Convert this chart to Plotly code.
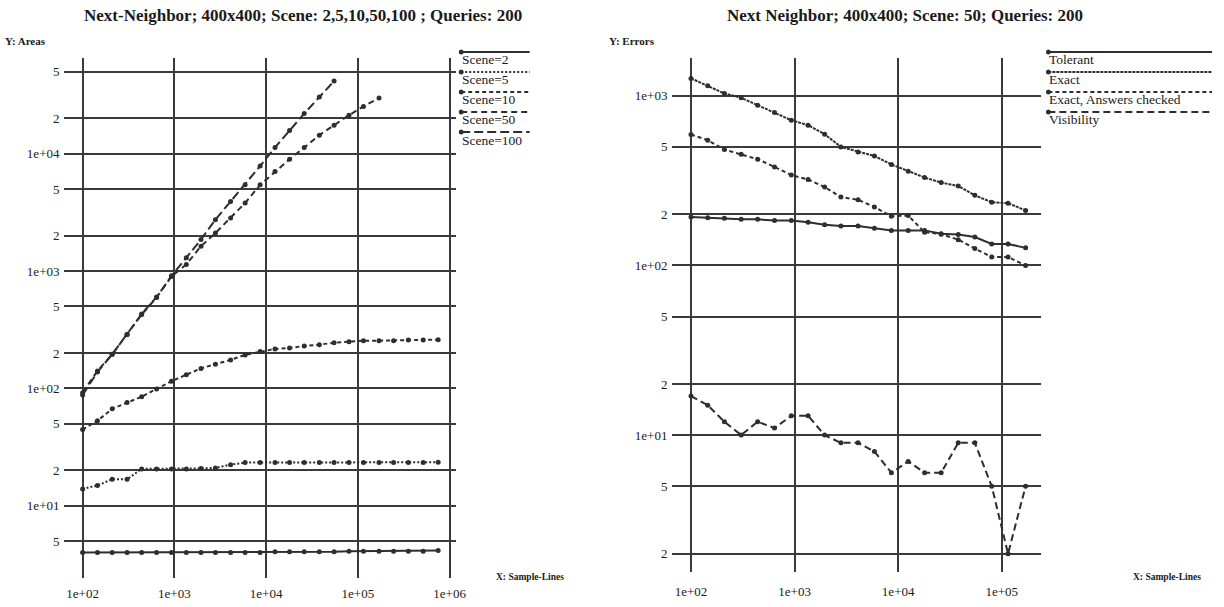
import plotly.graph_objects as go

# ---------------- data ----------------
sample_lines = [100, 145, 210, 305, 440, 640, 930, 1350, 1950, 2800, 4100, 5900, 8600,
                12500, 18000, 26000, 38000, 55000, 80000, 115000, 170000, 245000,
                355000, 515000, 750000]

scene2 = [4.0, 4.0, 4.0, 4.0, 4.0, 4.0, 4.0, 4.0, 4.0, 4.0, 4.0, 4.0, 4.0, 4.05, 4.05,
          4.05, 4.05, 4.05, 4.1, 4.1, 4.1, 4.1, 4.1, 4.1, 4.15]
scene5 = [13.9, 14.9, 16.8, 16.8, 20.6, 20.6, 20.6, 20.6, 20.8, 21, 22.4, 23.3, 23.3,
          23.3, 23.3, 23.3, 23.3, 23.3, 23.3, 23.3, 23.3, 23.3, 23.3, 23.3, 23.5]
scene10 = [44.6, 53, 67, 76, 85, 99, 115, 131, 148, 161, 175, 193, 206, 217, 221, 230,
           236, 245, 250, 255, 255, 255, 258, 259, 260]
scene50 = [92, 141, 195, 288, 427, 596, 900, 1140, 1630, 2110, 2830, 3800, 5430, 7040,
           8960, 11300, 14400, 17500, 21300, 25300, 29900]
scene100 = [88, 138, 195, 288, 430, 600, 910, 1300, 1860, 2740, 3920, 5430, 7870, 11300,
            15800, 22000, 30400, 41600]

sample_lines_r = [100, 145, 210, 305, 440, 640, 930, 1350, 1950, 2800, 4100, 5900, 8600,
                  12500, 18000, 26000, 38000, 55000, 80000, 115000, 170000]
tolerant = [193, 191, 190, 187, 187, 184, 184, 180, 174, 171, 171, 166, 161, 161, 161,
            154, 152, 147, 134, 134, 127]
exact = [1267, 1146, 1033, 973, 881, 798, 718, 671, 594, 500, 467, 442, 394, 359, 330,
         308, 294, 259, 236, 233, 211]
exact_checked = [592, 548, 482, 453, 423, 381, 341, 321, 290, 253, 244, 221, 195, 197,
                 157, 153, 142, 126, 112, 112, 100]
visibility = [17, 15, 12, 10, 12, 11, 13, 13, 10, 9, 9, 8, 6, 7, 6, 6, 9, 9, 5, 2, 5]

left_names = ["Scene=2", "Scene=5", "Scene=10", "Scene=50", "Scene=100"]
right_names = ["Tolerant", "Exact", "Exact, Answers checked", "Visibility"]

left_xticks = [1e2, 1e3, 1e4, 1e5, 1e6]
left_xlabels = ["1e+02", "1e+03", "1e+04", "1e+05", "1e+06"]
left_yticks = [5, 10, 20, 50, 100, 200, 500, 1000, 2000, 5000, 10000, 20000, 50000]
left_ylabels = ["5", "1e+01", "2", "5", "1e+02", "2", "5", "1e+03", "2", "5", "1e+04", "2", "5"]
right_xticks = [1e2, 1e3, 1e4, 1e5]
right_xlabels = ["1e+02", "1e+03", "1e+04", "1e+05"]
right_yticks = [2, 5, 10, 20, 50, 100, 200, 500, 1000]
right_ylabels = ["2", "5", "1e+01", "2", "5", "1e+02", "2", "5", "1e+03"]

# ---------------- styling ----------------
W, H = 1224, 607
INK = "#2e2e2e"
GRID = "#3a3a3a"
SERIF = "Liberation Serif, Times New Roman, serif"

left_dash = ["solid", "2px,2px", "4px,3px", "6px,4px", "9px,4px"]
right_dash = ["solid", "3px,1px", "4px,3px", "7px,4px"]


def px_x(p):
    return p / W


def px_y(p):
    return 1 - p / H


fig = go.Figure()

left_series = [(sample_lines, scene2), (sample_lines, scene5), (sample_lines, scene10),
               (sample_lines[:len(scene50)], scene50), (sample_lines[:len(scene100)], scene100)]
for (xs, ys), name, d in zip(left_series, left_names, left_dash):
    fig.add_trace(go.Scatter(x=xs, y=ys, name=name, mode="lines+markers",
                             line=dict(color=INK, width=2, dash=d),
                             marker=dict(color=INK, size=5),
                             xaxis="x", yaxis="y", showlegend=False))

right_series = [tolerant, exact, exact_checked, visibility]
for ys, name, d in zip(right_series, right_names, right_dash):
    fig.add_trace(go.Scatter(x=sample_lines_r, y=ys, name=name, mode="lines+markers",
                             line=dict(color=INK, width=2, dash=d),
                             marker=dict(color=INK, size=5),
                             xaxis="x2", yaxis="y2", showlegend=False))

tickfont = dict(family=SERIF, size=13, color="#1a1a1a")
common = dict(type="log", showgrid=True, gridcolor=GRID, gridwidth=2, zeroline=False,
              showline=False, ticks="", tickfont=tickfont, tickmode="array")

fig.update_layout(
    width=W, height=H,
    margin=dict(l=0, r=0, t=0, b=0),
    paper_bgcolor="white", plot_bgcolor="white",
    xaxis=dict(domain=[px_x(65), px_x(460)], range=[1.802, 6.072], anchor="y",
               tickvals=left_xticks, ticktext=left_xlabels, ticklabelstandoff=6, **common),
    yaxis=dict(domain=[px_y(578), px_y(58)], range=[0.384, 4.816], anchor="x",
               tickvals=left_yticks, ticktext=left_ylabels, ticklabelstandoff=4, **common),
    xaxis2=dict(domain=[px_x(678), px_x(1050)], range=[1.821, 5.383], anchor="y2",
                tickvals=right_xticks, ticktext=right_xlabels, ticklabelstandoff=10, **common),
    yaxis2=dict(domain=[px_y(572), px_y(58)], range=[0.193, 3.223], anchor="x2",
                tickvals=right_yticks, ticktext=right_ylabels, ticklabelstandoff=4, **common),
)

annotations = []
shapes = []

# titles
annotations.append(dict(text="<b>Next-Neighbor; 400x400; Scene: 2,5,10,50,100 ; Queries: 200</b>",
                        x=px_x(305), y=px_y(16), xref="paper", yref="paper",
                        xanchor="center", yanchor="middle", showarrow=False,
                        font=dict(family=SERIF, size=17, color="#1a1a1a")))
annotations.append(dict(text="<b>Next Neighbor; 400x400; Scene: 50; Queries: 200</b>",
                        x=px_x(912), y=px_y(16), xref="paper", yref="paper",
                        xanchor="center", yanchor="middle", showarrow=False,
                        font=dict(family=SERIF, size=17, color="#1a1a1a")))
# axis captions
for txt, x, y, s in [("<b>Y: Areas</b>", 3, 41, 11), ("<b>Y: Errors</b>", 612, 41, 11),
                     ("<b>X: Sample-Lines</b>", 498, 577, 9.5),
                     ("<b>X: Sample-Lines</b>", 1140, 577, 9.5)]:
    annotations.append(dict(text=txt, x=px_x(x), y=px_y(y), xref="paper", yref="paper",
                            xanchor="left", yanchor="middle", showarrow=False,
                            font=dict(family=SERIF, size=s, color="#1a1a1a")))

# custom legends (line sample above label, dot at left end)
def legend(names, dashes, x0, x1, y0):
    for i, (n, d) in enumerate(zip(names, dashes)):
        ly = y0 + 20 * i
        shapes.append(dict(type="line", xref="paper", yref="paper",
                           x0=px_x(x0), x1=px_x(x1), y0=px_y(ly), y1=px_y(ly),
                           line=dict(color=INK, width=2, dash=d)))
        shapes.append(dict(type="circle", xref="paper", yref="paper",
                           x0=px_x(x0 - 2.5), x1=px_x(x0 + 2.5),
                           y0=px_y(ly + 2.5), y1=px_y(ly - 2.5),
                           fillcolor=INK, line=dict(width=0)))
        annotations.append(dict(text=n, x=px_x(x0 - 1), y=px_y(ly + 8), xref="paper",
                                yref="paper", xanchor="left", yanchor="middle",
                                showarrow=False,
                                font=dict(family=SERIF, size=13.5, color="#1a1a1a")))

legend(left_names, left_dash, 465, 534, 52)
legend(right_names, right_dash, 1057, 1222, 52)

fig.update_layout(annotations=annotations, shapes=shapes)

fig.write_html("out.html", post_script="document.body.style.margin='0px';",
               config={"displayModeBar": False})
